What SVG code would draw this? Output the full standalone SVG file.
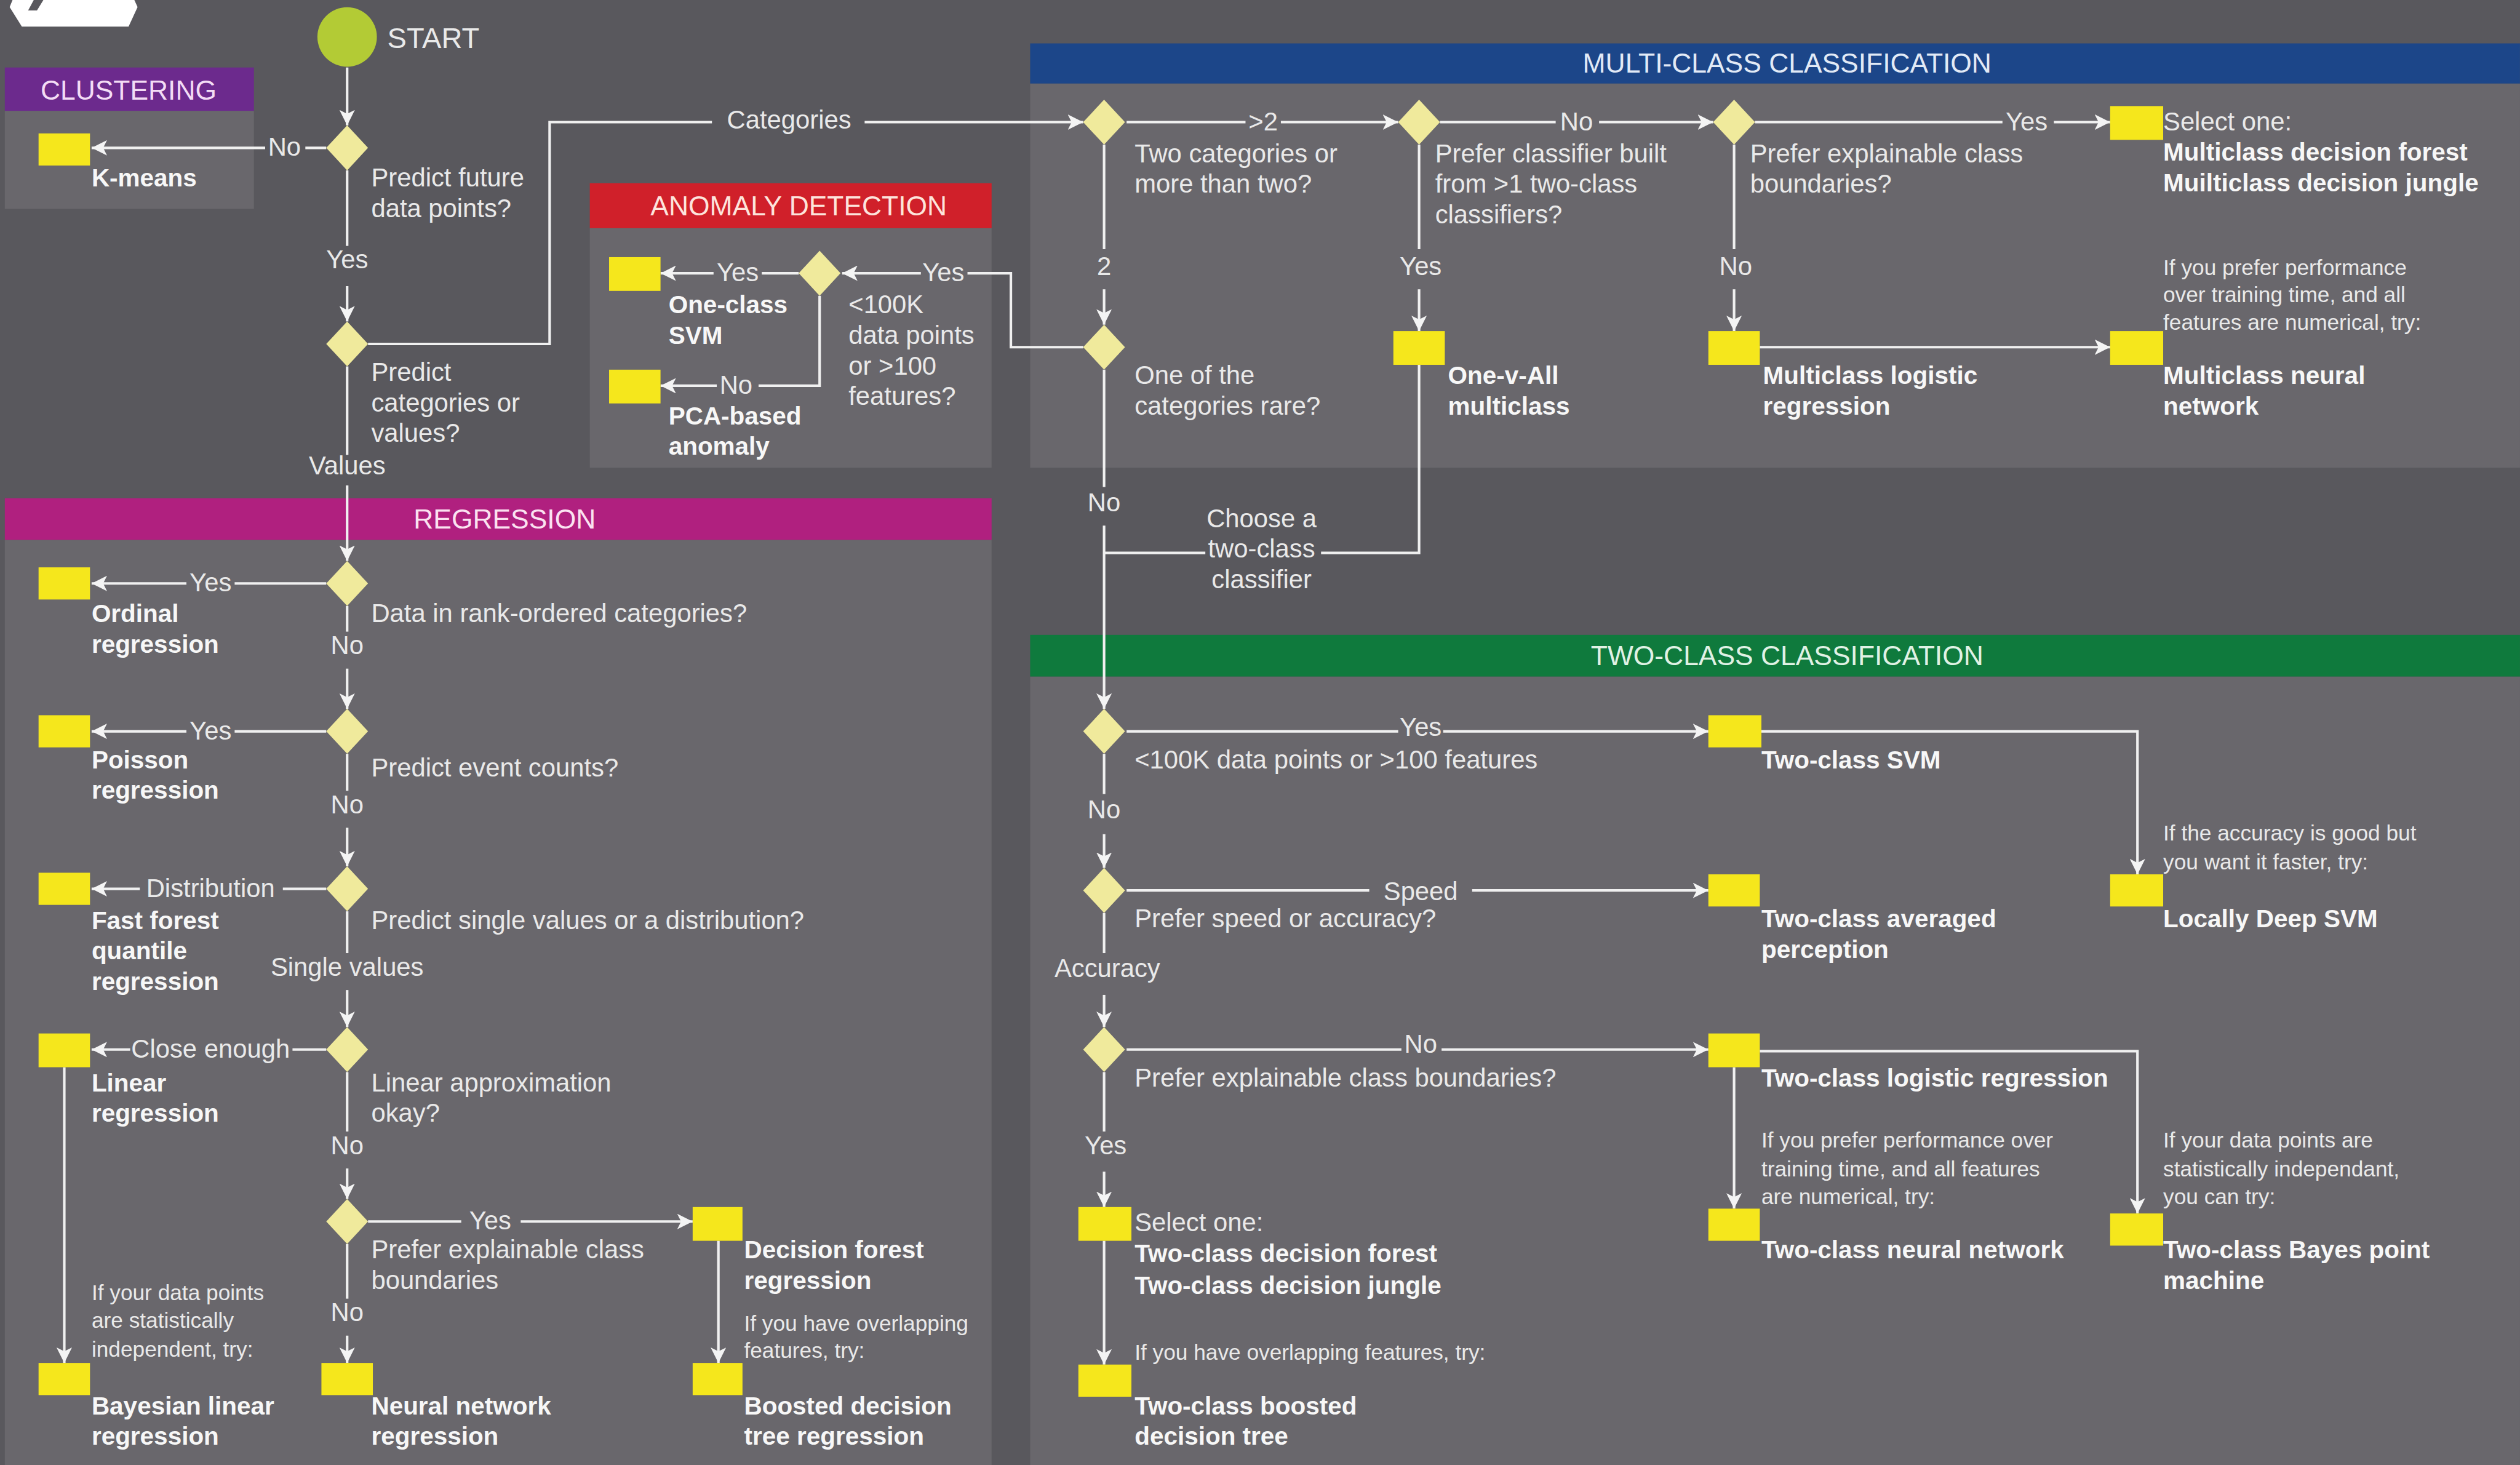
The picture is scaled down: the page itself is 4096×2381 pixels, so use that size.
<svg xmlns="http://www.w3.org/2000/svg" width="4096" height="2381" viewBox="0 0 4096 2381">
<defs>
<style>
text{font-family:'Liberation Sans',Arial,sans-serif;fill:#e9e9e9;font-size:16px}
.b{font-weight:bold;font-size:15.5px;fill:#f7f7f7}
.n{font-size:13.5px}
.m{text-anchor:middle}
.h{font-size:17px;text-anchor:middle}
.ln{stroke:#f0f0f0;stroke-width:1.6;fill:none}
.ar{marker-end:url(#ah)}
.dm{fill:#f0ea9c}
.bx{fill:#f5e71c}
.pn{fill:#69676c}
</style>
<marker id="ah" viewBox="0 0 10 10" refX="10" refY="5" markerWidth="6" markerHeight="6" orient="auto"><path d="M0,0 L10,5 L0,10 L2.5,5 Z" fill="#f4f4f4"/></marker>
<path id="dia" d="M0,-14 L13,0 L0,14 L-13,0 Z"/>
</defs>
<rect width="4096" height="2381" fill="#59585d"/>
<g transform="scale(2.6122)">
<g id="logo">
<polygon points="6,4.4 13.6,16.6 80,16.6 85.6,4.4 83.6,0 7.8,0" fill="#ffffff"/>
<polygon points="21,0 27,0 23,6.5 17.5,6.5" fill="#59585d"/>
</g>
<g id="panels">
<g id="panel-clustering"><rect x="3" y="42" width="155" height="27" fill="#6c2a8d"/><rect class="pn" x="3" y="69" width="155" height="61"/><text class="h" x="80" y="62" style="fill:#f3dcf5">CLUSTERING</text></g>
<g id="panel-anomaly"><rect x="367" y="114" width="250" height="28" fill="#d0202a"/><rect class="pn" x="367" y="142" width="250" height="149"/><text class="h" x="497" y="134" style="fill:#fde4dc">ANOMALY DETECTION</text></g>
<g id="panel-multiclass"><rect x="641" y="27" width="927" height="25" fill="#1c4689"/><rect class="pn" x="641" y="52" width="927" height="239"/><text class="h" x="1112" y="45" style="fill:#e2eaf6">MULTI-CLASS CLASSIFICATION</text></g>
<g id="panel-regression"><rect x="3" y="310" width="614" height="26" fill="#b0207f"/><rect class="pn" x="3" y="336" width="614" height="576"/><text class="h" x="314" y="329" style="fill:#fbe2f1">REGRESSION</text></g>
<g id="panel-twoclass"><rect x="641" y="395" width="927" height="26" fill="#0f7a3d"/><rect class="pn" x="641" y="421" width="927" height="491"/><text class="h" x="1112" y="414" style="fill:#e0f2e5">TWO-CLASS CLASSIFICATION</text></g>
</g>
<g id="connectors">
<path class="ln ar" d="M216,42 V78"/>
<path class="ln" d="M203,92 H190"/><path class="ln ar" d="M165,92 H57"/><text class="m" x="177" y="97">No</text>
<path class="ln" d="M216,106 V153"/><path class="ln ar" d="M216,178 V200"/><text class="m" x="216" y="167">Yes</text>
<path class="ln" d="M229,214 H342 V76 H443"/><path class="ln ar" d="M538,76 H674"/><text class="m" x="491" y="80">Categories</text>
<path class="ln" d="M216,228 V283"/><path class="ln ar" d="M216,302 V349"/><text class="m" x="216" y="295">Values</text>
<path class="ln" d="M203,363 H146"/><path class="ln ar" d="M116,363 H57"/><text class="m" x="131" y="368">Yes</text>
<path class="ln" d="M216,377 V393"/><path class="ln ar" d="M216,416 V441"/><text class="m" x="216" y="407">No</text>
<path class="ln" d="M203,455 H146"/><path class="ln ar" d="M116,455 H57"/><text class="m" x="131" y="460">Yes</text>
<path class="ln" d="M216,469 V492"/><path class="ln ar" d="M216,515 V539"/><text class="m" x="216" y="506">No</text>
<path class="ln" d="M203,553 H176"/><path class="ln ar" d="M87,553 H57"/><text class="m" x="131" y="558">Distribution</text>
<path class="ln" d="M216,567 V593"/><path class="ln ar" d="M216,616 V639"/><text class="m" x="216" y="607">Single values</text>
<path class="ln" d="M203,653 H182"/><path class="ln ar" d="M81,653 H57"/><text class="m" x="131" y="658">Close enough</text>
<path class="ln" d="M216,667 V704"/><path class="ln ar" d="M216,727 V746"/><text class="m" x="216" y="718">No</text>
<path class="ln ar" d="M40,664 V848"/>
<path class="ln" d="M229,760 H287"/><path class="ln ar" d="M324,760 H431"/><text class="m" x="305" y="765">Yes</text>
<path class="ln" d="M216,774 V808"/><path class="ln ar" d="M216,831 V848"/><text class="m" x="216" y="822">No</text>
<path class="ln ar" d="M447,772 V848"/>
<path class="ln" d="M674,216 H629 V170 H602"/><path class="ln ar" d="M573,170 H524"/><text class="m" x="587" y="175">Yes</text>
<path class="ln" d="M497,170 H474"/><path class="ln ar" d="M444,170 H411"/><text class="m" x="459" y="175">Yes</text>
<path class="ln" d="M510,184 V240 H472"/><path class="ln ar" d="M446,240 H411"/><text class="m" x="458" y="245">No</text>
<path class="ln" d="M701,76 H775"/><path class="ln ar" d="M797,76 H870"/><text class="m" x="786" y="81">&gt;2</text>
<path class="ln" d="M896,76 H968"/><path class="ln ar" d="M995,76 H1066"/><text class="m" x="981" y="81">No</text>
<path class="ln" d="M1092,76 H1246"/><path class="ln ar" d="M1278,76 H1313"/><text class="m" x="1261" y="81">Yes</text>
<path class="ln" d="M687,90 V155"/><path class="ln ar" d="M687,180 V202"/><text class="m" x="687" y="171">2</text>
<path class="ln" d="M883,90 V155"/><path class="ln ar" d="M883,180 V206"/><text class="m" x="884" y="171">Yes</text>
<path class="ln" d="M1079,90 V155"/><path class="ln ar" d="M1079,180 V206"/><text class="m" x="1080" y="171">No</text>
<path class="ln ar" d="M1095,216 H1313"/>
<path class="ln" d="M883,227 V344 H822"/><path class="ln" d="M750,344 H687"/>
<text class="m" x="785" y="328">Choose a</text><text class="m" x="785" y="347">two-class</text><text class="m" x="785" y="366">classifier</text>
<path class="ln" d="M687,230 V303"/><path class="ln ar" d="M687,327 V441"/><text class="m" x="687" y="318">No</text>
<path class="ln" d="M701,455 H870"/><path class="ln ar" d="M898,455 H1063"/><text class="m" x="884" y="458">Yes</text>
<path class="ln ar" d="M1096,455 H1330 V544"/>
<path class="ln" d="M687,469 V494"/><path class="ln ar" d="M687,519 V540"/><text class="m" x="687" y="509">No</text>
<path class="ln" d="M701,554 H852"/><path class="ln ar" d="M916,554 H1063"/><text class="m" x="884" y="560">Speed</text>
<path class="ln" d="M687,568 V593"/><path class="ln ar" d="M687,619 V639"/><text class="m" x="689" y="608">Accuracy</text>
<path class="ln" d="M701,653 H872"/><path class="ln ar" d="M897,653 H1063"/><text class="m" x="884" y="655">No</text>
<path class="ln ar" d="M1095,654 H1330 V755"/>
<path class="ln ar" d="M1079,664 V752"/>
<path class="ln" d="M687,667 V704"/><path class="ln ar" d="M687,729 V751"/><text class="m" x="688" y="718">Yes</text>
<path class="ln ar" d="M687,772 V849"/>
</g>
<g id="start"><circle cx="216" cy="23" r="18.5" fill="#b3cb35"/><text x="241" y="30" style="font-size:18px">START</text></g>
<g id="q-future"><use href="#dia" x="216" y="92" class="dm"/><text x="231" y="116">Predict future</text><text x="231" y="135">data points?</text></g>
<g id="kmeans"><rect class="bx" x="24" y="83" width="32" height="20"/><text class="b" x="57" y="116">K-means</text></g>
<g id="q-catval"><use href="#dia" x="216" y="214" class="dm"/><text x="231" y="237">Predict</text><text x="231" y="256">categories or</text><text x="231" y="275">values?</text></g>
<g id="q-anomaly"><use href="#dia" x="510" y="170" class="dm"/><text x="528" y="195">&lt;100K</text><text x="528" y="214">data points</text><text x="528" y="233">or &gt;100</text><text x="528" y="252">features?</text></g>
<g id="oneclass-svm"><rect class="bx" x="379" y="160" width="32" height="21"/><text class="b" x="416" y="195">One-class</text><text class="b" x="416" y="214">SVM</text></g>
<g id="pca-anomaly"><rect class="bx" x="379" y="230" width="32" height="21"/><text class="b" x="416" y="264">PCA-based</text><text class="b" x="416" y="283">anomaly</text></g>
<g id="q-twomore"><use href="#dia" x="687" y="76" class="dm"/><text x="706" y="101">Two categories or</text><text x="706" y="120">more than two?</text></g>
<g id="q-classifier"><use href="#dia" x="883" y="76" class="dm"/><text x="893" y="101">Prefer classifier built</text><text x="893" y="120">from &gt;1 two-class</text><text x="893" y="139">classifiers?</text></g>
<g id="q-explain-multi"><use href="#dia" x="1079" y="76" class="dm"/><text x="1089" y="101">Prefer explainable class</text><text x="1089" y="120">boundaries?</text></g>
<g id="multi-forest"><rect class="bx" x="1313" y="66" width="33" height="21"/><text x="1346" y="81">Select one:</text><text class="b" x="1346" y="100">Multiclass decision forest</text><text class="b" x="1346" y="119">Muilticlass decision jungle</text></g>
<g id="q-rare"><use href="#dia" x="687" y="216" class="dm"/><text x="706" y="239">One of the</text><text x="706" y="258">categories rare?</text></g>
<g id="one-v-all"><rect class="bx" x="867" y="206" width="32" height="21"/><text class="b" x="901" y="239">One-v-All</text><text class="b" x="901" y="258">multiclass</text></g>
<g id="multi-logistic"><rect class="bx" x="1063" y="206" width="32" height="21"/><text class="b" x="1097" y="239">Multiclass logistic</text><text class="b" x="1097" y="258">regression</text></g>
<g id="multi-neural"><rect class="bx" x="1313" y="206" width="33" height="21"/><text class="n" x="1346" y="171">If you prefer performance</text><text class="n" x="1346" y="188">over training time, and all</text><text class="n" x="1346" y="205">features are numerical, try:</text><text class="b" x="1346" y="239">Multiclass neural</text><text class="b" x="1346" y="258">network</text></g>
<g id="q-rank"><use href="#dia" x="216" y="363" class="dm"/><text x="231" y="387">Data in rank-ordered categories?</text></g>
<g id="ordinal"><rect class="bx" x="24" y="353" width="32" height="20"/><text class="b" x="57" y="387">Ordinal</text><text class="b" x="57" y="406">regression</text></g>
<g id="q-counts"><use href="#dia" x="216" y="455" class="dm"/><text x="231" y="483">Predict event counts?</text></g>
<g id="poisson"><rect class="bx" x="24" y="445" width="32" height="20"/><text class="b" x="57" y="478">Poisson</text><text class="b" x="57" y="497">regression</text></g>
<g id="q-distribution"><use href="#dia" x="216" y="553" class="dm"/><text x="231" y="578">Predict single values or a distribution?</text></g>
<g id="fast-forest"><rect class="bx" x="24" y="543" width="32" height="20"/><text class="b" x="57" y="578">Fast forest</text><text class="b" x="57" y="597">quantile</text><text class="b" x="57" y="616">regression</text></g>
<g id="q-linear"><use href="#dia" x="216" y="653" class="dm"/><text x="231" y="679">Linear approximation</text><text x="231" y="698">okay?</text></g>
<g id="linear"><rect class="bx" x="24" y="643" width="32" height="21"/><text class="b" x="57" y="679">Linear</text><text class="b" x="57" y="698">regression</text></g>
<g id="bayesian-linear"><rect class="bx" x="24" y="848" width="32" height="20"/><text class="n" x="57" y="809">If your data points</text><text class="n" x="57" y="826">are statistically</text><text class="n" x="57" y="844">independent, try:</text><text class="b" x="57" y="880">Bayesian linear</text><text class="b" x="57" y="899">regression</text></g>
<g id="q-explain-reg"><use href="#dia" x="216" y="760" class="dm"/><text x="231" y="783">Prefer explainable class</text><text x="231" y="802">boundaries</text></g>
<g id="decision-forest-reg"><rect class="bx" x="431" y="751" width="31" height="21"/><text class="b" x="463" y="783">Decision forest</text><text class="b" x="463" y="802">regression</text></g>
<g id="neural-reg"><rect class="bx" x="200" y="848" width="32" height="20"/><text class="b" x="231" y="880">Neural network</text><text class="b" x="231" y="899">regression</text></g>
<g id="boosted-reg"><rect class="bx" x="431" y="848" width="31" height="20"/><text class="n" x="463" y="828">If you have overlapping</text><text class="n" x="463" y="845">features, try:</text><text class="b" x="463" y="880">Boosted decision</text><text class="b" x="463" y="899">tree regression</text></g>
<g id="q-size"><use href="#dia" x="687" y="455" class="dm"/><text x="706" y="478">&lt;100K data points or &gt;100 features</text></g>
<g id="twoclass-svm"><rect class="bx" x="1063" y="445" width="33" height="20"/><text class="b" x="1096" y="478">Two-class SVM</text></g>
<g id="locally-deep-svm"><rect class="bx" x="1313" y="544" width="33" height="20"/><text class="n" x="1346" y="523">If the accuracy is good but</text><text class="n" x="1346" y="541">you want it faster, try:</text><text class="b" x="1346" y="577">Locally Deep SVM</text></g>
<g id="q-speed"><use href="#dia" x="687" y="554" class="dm"/><text x="706" y="577">Prefer speed or accuracy?</text></g>
<g id="averaged-perceptron"><rect class="bx" x="1063" y="544" width="32" height="20"/><text class="b" x="1096" y="577">Two-class averaged</text><text class="b" x="1096" y="596">perception</text></g>
<g id="q-explain-two"><use href="#dia" x="687" y="653" class="dm"/><text x="706" y="676">Prefer explainable class boundaries?</text></g>
<g id="twoclass-logistic"><rect class="bx" x="1063" y="643" width="32" height="21"/><text class="b" x="1096" y="676">Two-class logistic regression</text></g>
<g id="twoclass-neural"><rect class="bx" x="1063" y="752" width="32" height="20"/><text class="n" x="1096" y="714">If you prefer performance over</text><text class="n" x="1096" y="732">training time, and all features</text><text class="n" x="1096" y="749">are numerical, try:</text><text class="b" x="1096" y="783">Two-class neural network</text></g>
<g id="bayes-point"><rect class="bx" x="1313" y="755" width="33" height="20"/><text class="n" x="1346" y="714">If your data points are</text><text class="n" x="1346" y="732">statistically independant,</text><text class="n" x="1346" y="749">you can try:</text><text class="b" x="1346" y="783">Two-class Bayes point</text><text class="b" x="1346" y="802">machine</text></g>
<g id="twoclass-forest"><rect class="bx" x="671" y="751" width="33" height="21"/><text x="706" y="766">Select one:</text><text class="b" x="706" y="785">Two-class decision forest</text><text class="b" x="706" y="805">Two-class decision jungle</text></g>
<g id="twoclass-boosted"><rect class="bx" x="671" y="849" width="33" height="20"/><text class="n" x="706" y="846">If you have overlapping features, try:</text><text class="b" x="706" y="880">Two-class boosted</text><text class="b" x="706" y="899">decision tree</text></g>
</g>
</svg>
